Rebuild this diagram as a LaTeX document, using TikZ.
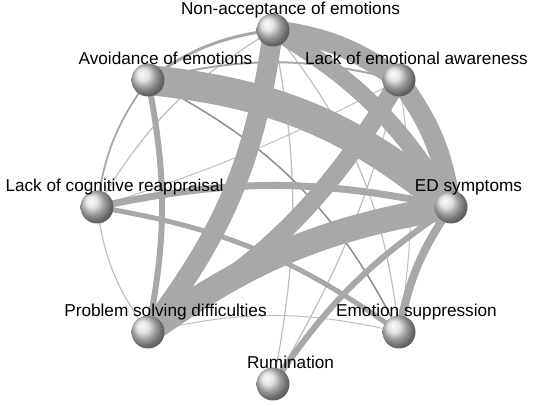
\documentclass[tikz,border=0pt]{standalone}
\usepackage{fontspec}
\setmainfont{Liberation Sans}
\pgfdeclarelayer{bg}
\pgfsetlayers{bg,main}
\definecolor{edgegray}{HTML}{A8A8A8}
\definecolor{lightedge}{HTML}{BEBEBE}
\definecolor{darkedge}{HTML}{8C8C8C}
\definecolor{ballgray}{HTML}{DADADA}
\begin{document}
\begin{tikzpicture}[x=1pt,y=1pt,
  ball/.style={circle,inner sep=0pt,minimum size=33pt,shading=ball,ball color=ballgray},
  lab/.style={anchor=base,inner sep=0pt,font=\fontsize{17.2}{20}\selectfont},
  band/.style={draw=edgegray,line width=#1},
  thinl/.style={draw=lightedge,line width=#1},
  darkl/.style={draw=darkedge,line width=#1}]
\useasboundingbox (0,0) rectangle (536,406);
% nodes
\node[ball] (NA)  at (273,376) {};
\node[ball] (LEA) at (399,326) {};
\node[ball] (ED)  at (451,199) {};
\node[ball] (ES)  at (399,74) {};
\node[ball] (RU)  at (273,22) {};
\node[ball] (PS)  at (148,74) {};
\node[ball] (LCR) at (97,199) {};
\node[ball] (AV)  at (148,326) {};
% labels
\node[lab] (NAl)  at (290.5,391) {Non-acceptance of emotions};
\node[lab] (LEAl) at (416.5,341) {Lack of emotional awareness};
\node[lab] (EDl)  at (468.5,214) {ED symptoms};
\node[lab] (ESl)  at (416.5,89) {Emotion suppression};
\node[lab] (RUl)  at (290.5,37) {Rumination};
\node[lab] (PSl)  at (165.5,89) {Problem solving difficulties};
\node[lab] (LCRl) at (114.5,214) {Lack of cognitive reappraisal};
\node[lab] (AVl)  at (165.5,341) {Avoidance of emotions};
% edges
\begin{pgfonlayer}{bg}
\draw[thinl=1]   (LCR.center) to[bend right=5] (LEA.center);
\draw[thinl=1]   (PS.center) to[bend left=13] (ES.center);
\draw[thinl=1]   (LEA.center) to[bend left=9] (ES.center);
\draw[thinl=1.2] (LEA.center) to[bend left=8] (RU.center);
\draw[thinl=1.2] (NA.center) to[bend left=11] (RU.center);
\draw[thinl=1.2] (NA.center) to[bend left=16] (ES.center);
\draw[thinl=1.2] (LCR.center) to[bend left=14] (NA.center);
\draw[thinl=1.2] (PS.center) to[bend left=14] (LCR.center);
\draw[darkl=1.5] (AV.center) to[bend left=18] (ES.center);
\draw[band=1.8]  (LCR.center) to[bend left=14] (AV.center);
\draw[band=2]    (AV.center) to[bend left=14] (LEA.center);
\draw[band=3]    (AV.center) to[bend left=14] (NA.center);
\draw[band=5]    (LCR.center) to[bend left=13] (ES.center);
\draw[band=6]    (AV.center) to[bend left=11] (PS.center);
\draw[band=6]    (RU.center) to[bend left=11] (ED.center);
\draw[band=7]    (LCR.center) to[bend left=12] (ED.center);
\draw[band=8]    (ES.center) to[bend left=12] (ED.center);
\draw[band=17]   (NA.center) to[bend left=14] (ED.center);
\draw[band=18]   (LEA.center) to[bend left=14] (PS.center);
\draw[band=20]   (NA.center) to[bend left=15] (PS.center);
\draw[band=20]   (NA.center) to[bend left=14] (LEA.center);
\draw[band=20]   (LEA.center) to[bend left=14] (ED.center);
\draw[band=25]   (PS.center) to[bend left=13] (ED.center);
\draw[band=30]   (AV.center) to[bend left=17] (ED.center);
\end{pgfonlayer}
\end{tikzpicture}
\end{document}
